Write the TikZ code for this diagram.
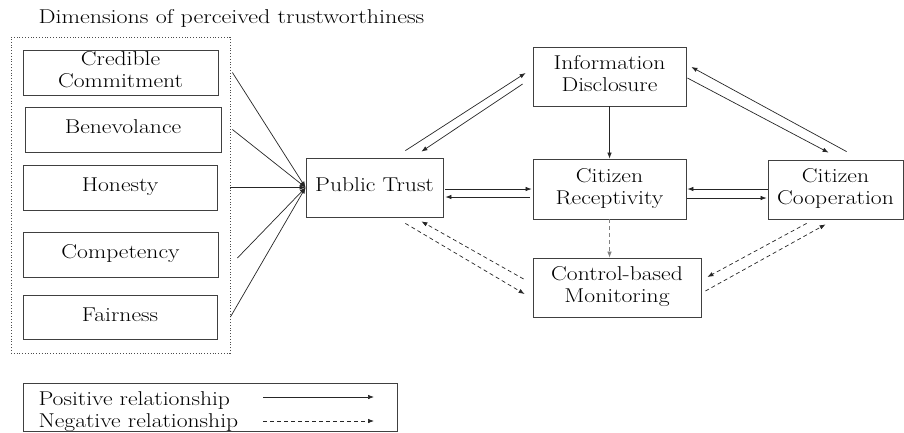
\documentclass[tikz,border=0pt]{standalone}
\usetikzlibrary{arrows.meta,calc}
\newcommand{\widetext}[1]{\scalebox{1.18}[1]{\begin{tabular}{@{}c@{}}#1\end{tabular}}}

\begin{document}
\begin{tikzpicture}[x=1pt,y=-1pt,
  factor/.style={draw=black!75,line width=0.8pt,align=center,inner sep=0pt,
    font=\fontsize{20}{22}\selectfont},
  plink/.style={draw=black!85,line width=0.7pt,-{Latex[length=6pt,width=4.5pt]}},
  nlink/.style={plink,dash pattern=on 4pt off 3pt}]
\useasboundingbox (0,0) rectangle (904,432);

\node[anchor=base west,font=\fontsize{20}{22}\selectfont] (title) at (35,23) {\scalebox{1.2}[1]{Dimensions of perceived trustworthiness}};
\node[draw=black!70,dotted,line width=0.8pt,minimum width=219pt,minimum height=316pt] (dims) at (120.5,195) {};

% dimensions
\node[factor,minimum width=195pt,minimum height=45pt] (cred) at (120.5,72.5) {\widetext{Credible\\Commitment}};
\node[factor,minimum width=196pt,minimum height=45pt] (bene) at (123,129.5) {\widetext{Benevolance}};
\node[factor,minimum width=194pt,minimum height=45pt] (hon) at (120,187.5) {\widetext{Honesty}};
\node[factor,minimum width=195pt,minimum height=45pt] (comp) at (120.5,254.5) {\widetext{Competency}};
\node[factor,minimum width=194pt,minimum height=44pt] (fair) at (120,317) {\widetext{Fairness}};

% outcomes
\node[factor,minimum width=137pt,minimum height=59pt] (pt) at (374.5,187.5) {\widetext{Public Trust}};
\node[factor,minimum width=153pt,minimum height=59pt] (info) at (609.5,76.5) {\widetext{Information\\Disclosure}};
\node[factor,minimum width=153pt,minimum height=60pt] (recep) at (609.5,189) {\widetext{Citizen\\Receptivity}};
\node[factor,minimum width=135pt,minimum height=59pt] (coop) at (835.5,189.5) {\widetext{Citizen\\Cooperation}};
\node[factor,minimum width=168pt,minimum height=59pt] (ctrl) at (617,287.5) {\widetext{Control-based\\Monitoring}};

\draw[plink] ($(cred.east)+(14,0)$) -- (pt.west);
\draw[plink] ($(bene.east)+(11,0)$) -- (pt.west);
\draw[plink] ($(hon.east)+(13,0)$) -- (pt.west);
\draw[plink] ($(comp.east)+(19,3.5)$) -- (pt.west);
\draw[plink] ($(fair.east)+(13,0)$) -- (pt.west);

\draw[plink] ($(pt.north east)+(-38,-7)$) -- ($(info.west)+(-7,-3.5)$);
\draw[plink] ($(info.west)+(-10,7.5)$) -- ($(pt.north east)+(-22,-6)$);
\draw[plink] ($(info.east)+(1,1.5)$) -- ($(coop.north west)+(61,-7)$);
\draw[plink] ($(coop.north west)+(79,-8)$) -- ($(info.east)+(5,-9.5)$);
\draw[plink] ($(pt.east)+(2,1.5)$) -- ($(recep.west)+(-1,0)$);
\draw[plink] ($(recep.west)+(-3,8)$) -- ($(pt.east)+(2,9.5)$);
\draw[plink] ($(coop.west)+(0,-0.5)$) -- ($(recep.east)+(1,0)$);
\draw[plink] ($(recep.east)+(1,9)$) -- ($(coop.west)+(-1,8.5)$);
\draw[plink] (info.south) -- (recep.north);
\draw[nlink,draw=gray] (recep.south) -- (recep.south |- ctrl.north);

\draw[nlink] ($(pt.south east)+(-38,6)$) -- ($(ctrl.west)+(-8,6.5)$);
\draw[nlink] ($(ctrl.west)+(-9,-8.5)$) -- ($(pt.south east)+(-22,4)$);
\draw[nlink] ($(coop.south west)+(39,4)$) -- ($(ctrl.east)+(6,-10.5)$);
\draw[nlink] ($(ctrl.east)+(4,3.5)$) -- ($(coop.south west)+(58,5)$);

% legend
\node[draw=black!75,line width=0.8pt,minimum width=374pt,minimum height=48pt] (legend) at (210,407) {};
\node[anchor=base west,font=\fontsize{20}{22}\selectfont] (postext) at (35,405) {\scalebox{1.18}[1]{Positive relationship}};
\node[anchor=base west,font=\fontsize{20}{22}\selectfont] (negtext) at (35,427) {\scalebox{1.18}[1]{Negative relationship}};
\coordinate (posA) at (263,397);
\coordinate (posB) at (374,397);
\coordinate (negA) at (263,421);
\coordinate (negB) at (374,421);
\draw[plink] (posA) -- (posB);
\draw[nlink] (negA) -- (negB);
\end{tikzpicture}
\end{document}
